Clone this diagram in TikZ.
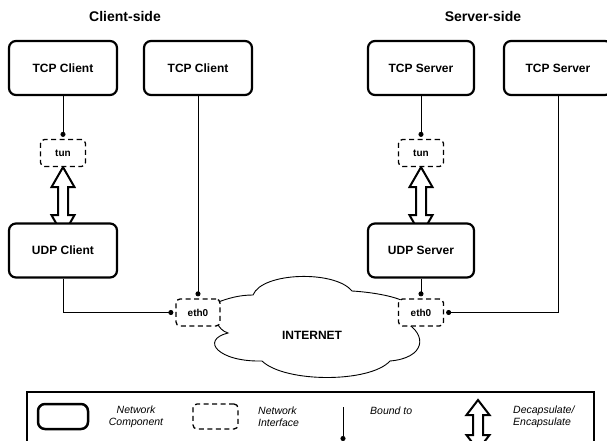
\documentclass[tikz,border=0pt]{standalone}
\usepackage{fontspec}
\setmainfont{Liberation Sans}
\usetikzlibrary{arrows.meta}
\pgfdeclarelayer{bg}
\pgfsetlayers{bg,main}
\begin{document}
\begin{tikzpicture}[x=1pt,y=-1pt,
  comp/.style={draw, line width=2.2pt, rounded corners=7pt, fill=white, minimum width=108pt, minimum height=54pt, inner sep=0pt, font=\bfseries\fontsize{12}{14}\selectfont},
  iface/.style={draw, line width=1.3pt, dash pattern=on 5pt off 3.5pt, rounded corners=4pt, fill=white, minimum width=45pt, minimum height=27pt, inner sep=0pt, font=\bfseries\fontsize{10}{12}\selectfont},
  bind/.style={line width=0.8pt, -{Circle[length=5pt]}, shorten >=2pt},
  dbl/.style={draw, fill=white, line width=2pt, line join=miter},
  titletext/.style={font=\bfseries\fontsize{14}{16}\selectfont},
  legtext/.style={font=\itshape\fontsize{10.5}{12}\selectfont, align=left, anchor=west, inner sep=0pt}
]
\useasboundingbox (0,0) rectangle (607,441);

% titles
\node[titletext] (tc) at (125,16) {Client-side};
\node[titletext] (ts) at (483,16) {Server-side};

% components
\node[comp] (tcpc1) at (63,68) {TCP Client};
\node[comp] (tcpc2) at (198,68) {TCP Client};
\node[comp, minimum width=106pt] (tcps1) at (421,68) {TCP Server};
\node[comp] (tcps2) at (558,68) {TCP Server};
\node[iface] (tunc) at (63,153) {tun};
\node[iface] (tuns) at (421,153) {tun};
\node[comp] (udpc) at (63,250.5) {UDP Client};
\node[comp, minimum width=106pt] (udps) at (421,250.5) {UDP Server};
\node[iface, minimum width=44pt] (ethl) at (198,312.5) {eth0};
\node[iface] (ethr) at (421,312.5) {eth0};
\node[font=\bfseries\fontsize{12}{14}\selectfont] (inet) at (312,335) {INTERNET};

\begin{pgfonlayer}{bg}
  % encapsulation arrows
  \draw[dbl] (tunc.south) -- ++(11.5,20) -- ++(-6.5,0) -- ++(0,28) -- ++(6.5,0) -- ++(-11.5,20) -- ++(-11.5,-20) -- ++(6.5,0) -- ++(0,-28) -- ++(-6.5,0) -- cycle;
  \draw[dbl] (tuns.south) -- ++(11.5,20) -- ++(-6.5,0) -- ++(0,28) -- ++(6.5,0) -- ++(-11.5,20) -- ++(-11.5,-20) -- ++(6.5,0) -- ++(0,-28) -- ++(-6.5,0) -- cycle;
  % cloud
  \draw[line width=0.9pt, fill=white] (216,303) .. controls (228,298) and (240,295) .. (253,295)
    .. controls (262,272) and (335,270) .. (352,291)
    .. controls (370,292) and (395,296) .. (405,302)
    -- (405,322)
    .. controls (428,335) and (425,358) .. (390,361)
    .. controls (370,383) and (285,383) .. (262,361)
    .. controls (218,362) and (200,340) .. (228,333)
    .. controls (222,331) and (220,328) .. (216,322)
    -- cycle;
\end{pgfonlayer}

% bindings
\draw[bind] (tcpc1) -- (tunc);
\draw[bind] (tcpc2) -- (ethl);
\draw[bind] (udpc.south) |- (ethl.west);
\draw[bind] (tcps1) -- (tuns);
\draw[bind] (udps) -- (ethr);
\draw[bind] (tcps2.south) |- (ethr.east);

% legend
\node[draw, line width=1.5pt, minimum width=567pt, minimum height=70pt, inner sep=0pt, anchor=north west] (leg) at (26,391) {};
\node[comp, line width=2.5pt, minimum width=50pt, minimum height=25pt] (lcomp) at (63,416.5) {};
\node[legtext, align=center, anchor=center] (lcompt) at (136,417) {Network\\Component};
\node[iface, minimum width=45pt, minimum height=25pt] (lif) at (215.5,416.5) {};
\node[legtext] (lift) at (258,417) {Network\\Interface};
\coordinate (lbtop) at (343,407);
\coordinate (lbbot) at (343,443);
\draw[bind] (lbtop) -- (lbbot);
\node[legtext] (lbt) at (370,411) {Bound to};
\coordinate (larr) at (478,400);
\draw[dbl] (larr) -- ++(11.5,15) -- ++(-6.5,0) -- ++(0,20) -- ++(6.5,0) -- ++(-11.5,15) -- ++(-11.5,-15) -- ++(6.5,0) -- ++(0,-20) -- ++(-6.5,0) -- cycle;
\node[legtext] (lat) at (513,417) {Decapsulate/\\Encapsulate};
\end{tikzpicture}
\end{document}
